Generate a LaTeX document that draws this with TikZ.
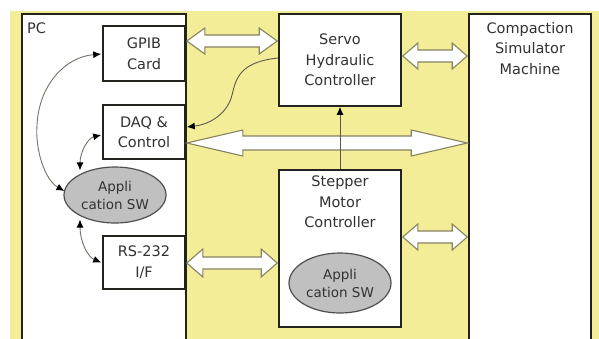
\documentclass[tikz,border=0pt]{standalone}
\usepackage{fontspec}
\setmainfont{DejaVu Sans}
\usetikzlibrary{calc,arrows.meta,shapes.geometric}
\definecolor{bgyellow}{RGB}{243,237,152}
\definecolor{boxline}{RGB}{35,35,30}
\definecolor{txt}{RGB}{50,50,50}
\definecolor{ellfill}{RGB}{192,192,192}
\definecolor{arrline}{RGB}{135,130,95}
\definecolor{curveline}{RGB}{90,90,75}
\newcommand\dblarr[5]{%
  \draw[fatarrow] let \p1=(#1), \p2=(#2) in
   (\x1,\y1) -- (\x1+#5pt,\y1+#4pt) -- (\x1+#5pt,\y1+#3pt) -- (\x2-#5pt,\y1+#3pt)
   -- (\x2-#5pt,\y1+#4pt) -- (\x2,\y1) -- (\x2-#5pt,\y1-#4pt) -- (\x2-#5pt,\y1-#3pt)
   -- (\x1+#5pt,\y1-#3pt) -- (\x1+#5pt,\y1-#4pt) -- cycle;}
\begin{document}
\begin{tikzpicture}[x=1pt,y=-1pt,
  blk/.style={draw=boxline,line width=1.6pt,fill=white,rectangle,inner sep=0pt,
    text=txt,align=center,font=\fontsize{14.5}{20.5}\selectfont},
  appell/.style={draw=boxline!80,line width=1.2pt,fill=ellfill,ellipse,inner sep=0pt,
    text=txt,align=center,font=\fontsize{13.5}{18}\selectfont},
  lbl/.style={text=txt,align=center,inner sep=0pt,font=\fontsize{14.5}{20.5}\selectfont},
  fatarrow/.style={draw=arrline,line width=1.1pt,fill=white,line join=miter},
  tip/.tip={Latex[length=8pt,width=7pt,color=black]},
  link/.style={draw=curveline,line width=0.9pt,-tip},
  dlink/.style={draw=curveline!85,line width=0.9pt,tip-tip}
]
\useasboundingbox (0,0) rectangle (599,338);
\fill[bgyellow] (10,11) rectangle (605,345);
% boxes
\node[blk,minimum width=164,minimum height=332] (pc) at (104,180) {};
\node[lbl,anchor=west] (pclbl) at (27,28) {PC};
\node[blk,minimum width=82,minimum height=55] (gpib) at (144,53.5) {GPIB\\Card};
\node[blk,minimum width=82,minimum height=54] (daq) at (144,132) {DAQ \&\\Control};
\node[blk,minimum width=82,minimum height=53] (rs) at (144,262.5) {RS-232\\I/F};
\node[appell,minimum width=102,minimum height=56] (ell1) at (115,195) {Appli\\cation SW};
\node[blk,minimum width=122,minimum height=92] (servo) at (340,60) {Servo\\Hydraulic\\Controller};
\node[blk,minimum width=122,minimum height=157] (stepper) at (340,248.5) {};
\node[lbl,anchor=north] (steplbl) at (340,176) {Stepper\\Motor\\Controller};
\node[appell,minimum width=102,minimum height=60] (ell2) at (340,283) {Appli\\cation SW};
\node[blk,minimum width=122,minimum height=332] (comp) at (530,180) {};
\node[lbl,anchor=north] (complbl) at (530,22) {Compaction\\Simulator\\Machine};
% fat double arrows
\dblarr{$(gpib.east)+(1,-12.5)$}{$(servo.west|-gpib.east)+(-1,-12.5)$}{6}{13}{18}
\dblarr{$(servo.east)+(1,-4)$}{$(comp.west|-servo.east)+(-1,-4)$}{6}{13}{15}
\dblarr{$(daq.east)+(1,11)$}{$(comp.west|-daq.east)+(-1,11)$}{7}{13}{56}
\dblarr{$(stepper.east)+(1,-11.5)$}{$(comp.west|-stepper.east)+(-1,-11.5)$}{6}{13}{15}
\dblarr{$(rs.east)+(1,0.5)$}{$(stepper.west|-rs.east)+(-1,0.5)$}{6}{14}{16}
% connectors
\draw[link] (stepper.north) -- (servo.south);
\draw[link] ($(servo.west)+(0,-2)$) .. controls (240,62) and (236,78) .. (232,95)
   .. controls (228,112) and (212,124) .. ($(daq.east)+(1,-5)$);
\draw[dlink] ($(ell1.west)+(1,-4)$) .. controls (45,180) and (35,150) .. (37,125)
   .. controls (39,85) and (65,57) .. ($(gpib.west)+(-1,0.5)$);
\draw[dlink] ($(ell1.north)+(-35,4)$) .. controls (80,152) and (88,138) .. ($(daq.west)+(-1,3)$);
\draw[dlink] ($(ell1.south)+(-35,-4)$) .. controls (80,242) and (88,257) .. ($(rs.west)+(-1,0)$);
\end{tikzpicture}
\end{document}
